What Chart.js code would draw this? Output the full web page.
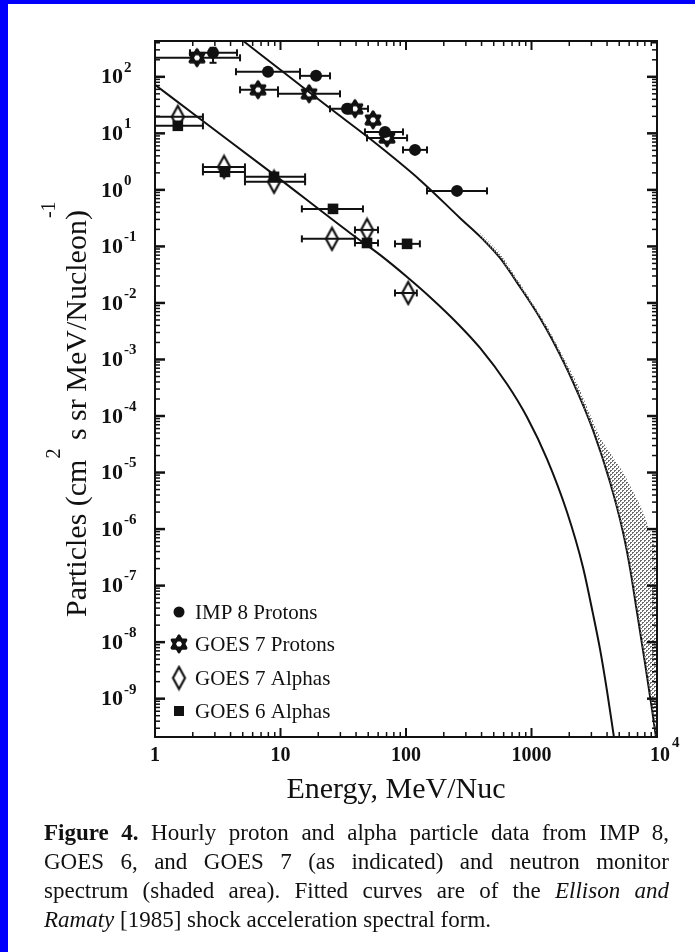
<!DOCTYPE html>
<html>
<head>
<meta charset="utf-8">
<title>Figure 4</title>
<script src="https://cdn.jsdelivr.net/npm/chart.js@4.4.1/dist/chart.umd.min.js"></script>
<style>
  html, body { margin: 0; padding: 0; background: #fff; }
  body { width: 695px; height: 952px; position: relative; overflow: hidden; }
  .edge-left { position: absolute; left: 0; top: 0; width: 8px; height: 952px; background: #0000fc; z-index: 5; }
  .edge-top { position: absolute; left: 0; top: 0; width: 695px; height: 4px; background: #0000fc; z-index: 5; }
  #wrap { position: absolute; left: 0; top: 0; width: 695px; height: 820px; }
  #caption { position: absolute; left: 44px; top: 818px; width: 625px; color: #111;
    font-family: "Liberation Serif", serif; font-size: 23px; line-height: 29px; }
  #caption .line { text-align: justify; text-align-last: justify; }
  #caption .line.last { text-align-last: left; }
</style>
</head>
<body>
<div class="edge-left"></div>
<div class="edge-top"></div>
<div id="wrap"><canvas id="chart" width="695" height="820"></canvas></div>
<div id="caption">
  <div class="line"><b>Figure 4.</b> Hourly proton and alpha particle data from IMP 8,</div>
  <div class="line">GOES 6, and GOES 7 (as indicated) and neutron monitor</div>
  <div class="line">spectrum (shaded area). Fitted curves are of the <i>Ellison and</i></div>
  <div class="line last"><i>Ramaty</i> [1985] shock acceleration spectral form.</div>
</div>
<script>
/* DATA */

const imp8E   = [2.9, 7.95, 19.2, 33.9, 68.0, 118, 255];
const imp8F   = [266, 123, 104, 27.2, 10.6, 5.1, 0.96];
const imp8ELo = [1.9, 4.42, 14.3, null, 47.1, 94.6, 147];
const imp8EHi = [4.5, 14.3, 24.8, null, 94.6, 147, 442];
const imp8FLo = [177, null, null, null, null, null, null];
const imp8FHi = [326, null, null, null, null, null, null];

const goes7pE   = [2.16, 6.62, 16.9, 39.2, 54.6, 70.6];
const goes7pF   = [217, 58.9, 50, 27.2, 17.3, 8.3];
const goes7pELo = [1.0, 4.76, 9.55, 24.8, null, 48.9];
const goes7pEHi = [4.76, 9.55, 29.8, 49.8, null, 102];

const goes7aE   = [1.52, 3.55, 8.88, 25.7, 48.9, 104];
const goes7aF   = [19.6, 2.55, 1.39, 0.136, 0.196, 0.015];
const goes7aELo = [1.0, 2.41, 5.21, 14.8, 39.2, 81.7];
const goes7aEHi = [2.41, 5.21, 15.7, 39.2, 59.8, 122];

const goes6aE   = [1.52, 3.61, 8.88, 26.2, 48.9, 102];
const goes6aF   = [13.6, 2.08, 1.70, 0.461, 0.115, 0.111];
const goes6aELo = [1.0, 2.41, 5.21, 14.8, 39.2, 81.7];
const goes6aEHi = [2.41, 5.21, 15.7, 45.4, 59.8, 129];

// fitted curves
const protonFitE = [5.03, 11.9, 24.8, 51.7, 129, 269, 411, 561, 810, 1169, 1483, 2142, 3093, 4222, 5358, 6095, 6930, 8025, 9125, 9817];
const protonFitF = [433, 98, 27.7, 8.0, 1.50, 0.319, 0.133, 0.0626, 0.0192, 5.43e-3, 2.12e-3, 4.0e-4, 5.65e-5, 6.79e-6, 8.85e-7, 2.04e-7, 3.4e-8, 4.25e-9, 6.5e-10, 2.08e-10];

const alphaFitE = [1, 2.28, 8.71, 35.8, 62.1, 102, 155, 255, 389, 638, 920, 1330, 1918, 2571, 3093, 3515, 3999, 4540];
const alphaFitF = [72.2, 18.1, 1.92, 0.173, 0.0708, 0.0288, 0.01277, 4.43e-3, 1.60e-3, 3.68e-4, 9.6e-5, 1.73e-5, 2.0e-6, 2.12e-7, 3.13e-8, 7.52e-9, 1.36e-9, 2.08e-10];

// neutron monitor band: outer edge going down, then back up along the proton curve
const shadeOuterE = [389, 561, 856, 1330, 2304, 3515, 5355, 7328, 9290, 10000, 10000];
const shadeOuterF = [0.173, 0.0767, 0.0184, 3.92e-3, 3.84e-4, 4.08e-5, 1.02e-5, 2.66e-6, 6.93e-7, 2.8e-7, 2.08e-10];
const shadeInnerE = [9817, 9125, 8025, 6930, 6095, 5358, 4222, 3093, 2142, 1483, 1169, 810, 561, 411, 389];
const shadeInnerF = [2.08e-10, 6.5e-10, 4.25e-9, 3.4e-8, 2.04e-7, 8.85e-7, 6.79e-6, 5.65e-5, 4.0e-4, 2.12e-3, 5.43e-3, 0.0192, 0.0626, 0.133, 0.153];

const xTickValues = [1, 10, 100, 1000, 10000];
const xTickLabels = ["1", "10", "100", "1000", "10^4"];
const yTickExps = [2, 1, 0, -1, -2, -3, -4, -5, -6, -7, -8, -9];

const legendNames = ["IMP 8 Protons", "GOES 7 Protons", "GOES 7 Alphas", "GOES 6 Alphas"];

/* MARKERS */

const INK = "#111";
const SERIF = '"Liberation Serif", "Times New Roman", serif';

function hexStar(r, lw) {
  const c = document.createElement("canvas");
  const s = Math.ceil(2 * r + lw + 3);
  c.width = s; c.height = s;
  const g = c.getContext("2d");
  const cx = s / 2, cy = s / 2;
  const tri = rot => {
    g.beginPath();
    for (let k = 0; k < 3; k++) {
      const a = rot + k * 2 * Math.PI / 3;
      const px = cx + r * Math.cos(a), py = cy + r * Math.sin(a);
      k ? g.lineTo(px, py) : g.moveTo(px, py);
    }
    g.closePath();
  };
  g.lineWidth = lw; g.strokeStyle = INK; g.fillStyle = "#fff"; g.lineJoin = "round";
  tri(-Math.PI / 2); g.fill(); g.stroke();
  tri(Math.PI / 2); g.fill(); g.stroke();
  tri(-Math.PI / 2); g.stroke();
  return c;
}

function diamond(hw, hh, lw) {
  const c = document.createElement("canvas");
  c.width = Math.ceil(2 * hw + lw + 2); c.height = Math.ceil(2 * hh + lw + 2);
  const g = c.getContext("2d");
  const cx = c.width / 2, cy = c.height / 2;
  g.beginPath();
  g.moveTo(cx, cy - hh); g.lineTo(cx + hw, cy); g.lineTo(cx, cy + hh); g.lineTo(cx - hw, cy);
  g.closePath();
  g.lineWidth = lw; g.strokeStyle = INK; g.lineJoin = "miter";
  g.stroke();
  return c;
}

// dotted halftone for the shaded band
function stipple() {
  const c = document.createElement("canvas");
  c.width = 4; c.height = 4;
  const g = c.getContext("2d");
  g.fillStyle = "#6e6e6e";
  g.fillRect(0, 0, 2, 1); g.fillRect(0, 1, 1, 1);
  g.fillRect(2, 2, 2, 1); g.fillRect(2, 3, 1, 1);
  return c;
}

const starImg = hexStar(8, 2.8);
const diamondImg = diamond(6, 11, 2.2);

/* CHART */

const pts = (xs, ys) => xs.map((x, i) => ({ x, y: ys[i] }));

const canvas = document.getElementById("chart");
const shadeFill = canvas.getContext("2d").createPattern(stipple(), "repeat");

const errorBars = [
  { E: imp8E, F: imp8F, lo: imp8ELo, hi: imp8EHi, flo: imp8FLo, fhi: imp8FHi },
  { E: goes7pE, F: goes7pF, lo: goes7pELo, hi: goes7pEHi },
  { E: goes7aE, F: goes7aF, lo: goes7aELo, hi: goes7aEHi },
  { E: goes6aE, F: goes6aF, lo: goes6aELo, hi: goes6aEHi }
];

function line(ctx, x1, y1, x2, y2) {
  ctx.beginPath(); ctx.moveTo(x1, y1); ctx.lineTo(x2, y2); ctx.stroke();
}

const figurePlugin = {
  id: "figure",
  beforeDatasetsDraw(chart) {
    const { ctx, scales: { x, y } } = chart;
    ctx.save();
    ctx.strokeStyle = INK;
    ctx.lineWidth = 2;
    errorBars.forEach(s => {
      s.E.forEach((e, i) => {
        const py = y.getPixelForValue(s.F[i]);
        if (s.lo[i] != null) {
          const x1 = x.getPixelForValue(s.lo[i]), x2 = x.getPixelForValue(s.hi[i]);
          line(ctx, x1, py, x2, py);
          line(ctx, x1, py - 3.5, x1, py + 3.5);
          line(ctx, x2, py - 3.5, x2, py + 3.5);
        }
        if (s.flo && s.flo[i] != null) {
          const px = x.getPixelForValue(e);
          const y1 = y.getPixelForValue(s.flo[i]), y2 = y.getPixelForValue(s.fhi[i]);
          line(ctx, px, y1, px, y2);
          line(ctx, px - 3.5, y1, px + 3.5, y1);
          line(ctx, px - 3.5, y2, px + 3.5, y2);
        }
      });
    });
    ctx.restore();
  },
  afterDraw(chart) {
    const { ctx, chartArea: a, scales: { x, y } } = chart;
    ctx.save();
    ctx.strokeStyle = INK;
    ctx.fillStyle = INK;

    // frame
    ctx.lineWidth = 2;
    ctx.strokeRect(a.left, a.top, a.right - a.left, a.bottom - a.top);

    // inward ticks on all four sides
    for (let e = 0; e < 4; e++) {
      for (let m = 1; m < 10; m++) {
        const px = x.getPixelForValue(m * Math.pow(10, e));
        const len = m === 1 ? 9 : 5;
        ctx.lineWidth = m === 1 ? 2 : 1.5;
        line(ctx, px, a.bottom, px, a.bottom - len);
        line(ctx, px, a.top, px, a.top + len);
      }
    }
    for (let e = -10; e <= 2; e++) {
      for (let m = 1; m < 10; m++) {
        const v = m * Math.pow(10, e);
        if (v < y.min || v > y.max) continue;
        const py = y.getPixelForValue(v);
        const len = m === 1 ? 10 : 5;
        ctx.lineWidth = m === 1 ? 2.5 : 1.5;
        line(ctx, a.left, py, a.left + len, py);
        line(ctx, a.right, py, a.right - len, py);
      }
    }

    // y tick labels
    ctx.textBaseline = "middle";
    ctx.textAlign = "left";
    yTickExps.forEach(e => {
      const py = y.getPixelForValue(Math.pow(10, e));
      ctx.font = "bold 22px " + SERIF;
      ctx.fillText("10", 101, py + 1);
      const w = ctx.measureText("10").width;
      ctx.font = "bold 15px " + SERIF;
      ctx.fillText(String(e), 101 + w + 1, py - 9);
    });

    // x tick labels
    xTickValues.forEach((v, i) => {
      const px = x.getPixelForValue(v);
      const label = xTickLabels[i];
      ctx.font = "bold 20px " + SERIF;
      if (label.includes("^")) {
        const [base, exp] = label.split("^");
        ctx.textAlign = "center";
        ctx.fillText(base, px + 3, 756);
        const w = ctx.measureText(base).width;
        ctx.font = "bold 15px " + SERIF;
        ctx.textAlign = "left";
        ctx.fillText(exp, px + 3 + w / 2 + 2, 743);
      } else {
        ctx.textAlign = "center";
        ctx.fillText(label, px, 756);
      }
    });

    // axis titles
    ctx.font = "30px " + SERIF;
    ctx.textAlign = "center";
    ctx.textBaseline = "middle";
    ctx.fillText("Energy, MeV/Nuc", 396, 790);

    ctx.save();
    ctx.translate(86, 617);
    ctx.rotate(-Math.PI / 2);
    ctx.textAlign = "left";
    ctx.textBaseline = "alphabetic";
    let pos = 0;
    const big = "30px " + SERIF, small = "20px " + SERIF;
    ctx.font = big;
    ctx.fillText("Particles (cm", pos, 0);
    pos += ctx.measureText("Particles (cm").width;
    ctx.font = small;
    ctx.fillText("2", pos + 1, -26);
    pos += ctx.measureText("2").width + 2;
    ctx.font = big;
    ctx.fillText(" s sr MeV/Nucleon)", pos, 0);
    pos += ctx.measureText(" s sr MeV/Nucleon)").width;
    ctx.font = small;
    ctx.fillText("-1", pos - 8, -31);
    ctx.restore();

    // legend
    const rows = [612, 644, 678, 711];
    const mx = 179;
    ctx.font = "21px " + SERIF;
    ctx.textAlign = "left";
    ctx.textBaseline = "middle";
    rows.forEach((ry, i) => {
      if (i === 0) { ctx.beginPath(); ctx.arc(mx, ry, 5.5, 0, 2 * Math.PI); ctx.fill(); }
      if (i === 1) ctx.drawImage(starImg, mx - starImg.width / 2, ry - starImg.height / 2);
      if (i === 2) ctx.drawImage(diamondImg, mx - diamondImg.width / 2, ry - diamondImg.height / 2);
      if (i === 3) ctx.fillRect(mx - 5, ry - 5, 10, 10);
      ctx.fillText(legendNames[i], 195, ry + 1);
    });
    ctx.restore();
  }
};

new Chart(canvas, {
  type: "scatter",
  data: {
    datasets: [
      {
        label: "Neutron monitor",
        data: pts(shadeOuterE.concat(shadeInnerE), shadeOuterF.concat(shadeInnerF)),
        showLine: true, fill: "shape", backgroundColor: shadeFill,
        borderWidth: 0, pointRadius: 0, tension: 0
      },
      {
        label: "Proton fit",
        data: pts(protonFitE, protonFitF),
        showLine: true, borderColor: INK, borderWidth: 2, pointRadius: 0,
        cubicInterpolationMode: "monotone", fill: false
      },
      {
        label: "Alpha fit",
        data: pts(alphaFitE, alphaFitF),
        showLine: true, borderColor: INK, borderWidth: 2, pointRadius: 0,
        cubicInterpolationMode: "monotone", fill: false
      },
      {
        label: legendNames[0], data: pts(imp8E, imp8F),
        pointStyle: "circle", pointRadius: 6, backgroundColor: INK, borderWidth: 0
      },
      {
        label: legendNames[1], data: pts(goes7pE, goes7pF),
        pointStyle: starImg, pointRadius: 9
      },
      {
        label: legendNames[2], data: pts(goes7aE, goes7aF),
        pointStyle: diamondImg, pointRadius: 11
      },
      {
        label: legendNames[3], data: pts(goes6aE, goes6aF),
        pointStyle: "rect", pointRadius: 7.5, backgroundColor: INK, borderWidth: 0
      }
    ]
  },
  options: {
    responsive: false,
    animation: false,
    layout: { padding: { left: 0, right: 38, top: 41, bottom: 0 } },
    plugins: { legend: { display: false }, tooltip: { enabled: false } },
    scales: {
      x: {
        type: "logarithmic", min: 1, max: 10000,
        grid: { display: false }, border: { display: false }, ticks: { display: false },
        afterFit(s) { s.height = 83; }
      },
      y: {
        type: "logarithmic", min: 2.1e-10, max: 430,
        grid: { display: false }, border: { display: false }, ticks: { display: false },
        afterFit(s) { s.width = 155; }
      }
    }
  },
  plugins: [figurePlugin]
});
</script>
</body>
</html>
